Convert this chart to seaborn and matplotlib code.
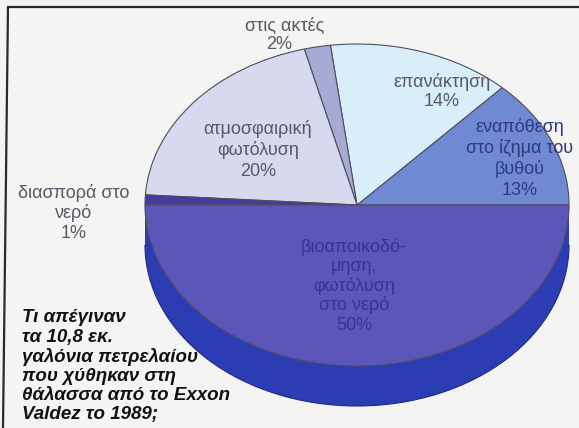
import matplotlib
matplotlib.use("Agg")
import matplotlib.pyplot as plt
from matplotlib.patches import Wedge, Rectangle
import seaborn as sns

# ---- data ----
categories = ["εναπόθεση\nστο ίζημα του\nβυθού", "επανάκτηση", "στις ακτές",
              "ατμοσφαιρική\nφωτόλυση", "διασπορά στο\nνερό",
              "βιοαποικοδό-\nμηση,\nφωτόλυση\nστο νερό"]
shares = [13, 14, 2, 20, 1, 50]
pct_labels = [f"{v}%" for v in shares]
colors = ["#6f89d2", "#d8eef9", "#a5abd5", "#d7d9ef", "#4a399c", "#5b56b8"]
side_color = "#2c3db3"
title_lines = ["Τι απέγιναν", "τα 10,8 εκ.", "γαλόνια πετρελαίου",
               "που χύθηκαν στη", "θάλασσα από το Exxon", "Valdez το 1989;"]

sns.set_theme(style="white")
plt.rcParams['font.family'] = ['Liberation Sans', 'DejaVu Sans']

W, H = 579, 428
fig = plt.figure(figsize=(W / 100, H / 100), dpi=100)
fig.patch.set_facecolor('#f4f4f3')

# ---- pie geometry (pixels) ----
cx, cy, rx, ry, depth = 357, 205, 212, 161, 40
d = depth / ry
ax = fig.add_axes([(cx - rx) / W, (H - (cy + ry + depth)) / H,
                   2 * rx / W, (2 * ry + depth) / H])
ax.set_zorder(1)
ax.add_patch(Wedge((0, -d), 1, 180, 360, facecolor=side_color,
                   edgecolor='#1d2a8a', lw=0.8, zorder=0, clip_on=False))
ax.add_patch(Rectangle((-1, -d), 2, d, facecolor=side_color,
                       edgecolor='none', zorder=0, clip_on=False))
wedges, _ = ax.pie(shares, colors=colors, startangle=0, counterclock=True,
                   wedgeprops=dict(edgecolor='#4d4d5e', linewidth=0.8))
for w in wedges:
    w.set_clip_on(False)
ax.set_aspect('auto')
ax.set_xlim(-1, 1)
ax.set_ylim(-1 - d, 1)
ax.axis('off')

# overlay for frame and text
bg = fig.add_axes([0, 0, 1, 1])
bg.set_zorder(2)
bg.set_xlim(0, W)
bg.set_ylim(H, 0)
bg.axis('off')
bg.plot([8, 3], [7, H], color='#2a2a2a', lw=1.6)
bg.plot([8, W], [7, 7], color='#2a2a2a', lw=1.6)

# ---- labels (layout in pixels) ----
label_layout = [  # (x, y of first line, line step)
    (520, 127, 21),   # εναπόθεση
    (442, 82, 19),    # επανάκτηση
    (285, 26, 18),    # στις ακτές
    (258, 129, 21),   # ατμοσφαιρική
    (74, 193, 20),    # διασπορά
    (354, 247, 19.5), # βιοαποικοδόμηση
]
label_colors = ['#2f3b7a', '#585866', '#585866', '#585866', '#585866', '#35358f']
for name, pct, (x, y0, step), col, i in zip(categories, pct_labels, label_layout,
                                            label_colors, range(len(shares))):
    lines = name.split("\n") + [pct]
    for k, line in enumerate(lines):
        xx = x
        if i == 2 and k == 1:
            xx = x - 6
        bg.text(xx, y0 + k * step, line, ha='center', va='center',
                fontsize=13, color=col)

for k, line in enumerate(title_lines):
    bg.text(22, 318 + k * 19.4, line, ha='left', va='center', fontsize=13.5,
            fontweight='bold', fontstyle='italic', color='#111111')

fig.savefig("out.png", dpi=100, facecolor=fig.get_facecolor())
